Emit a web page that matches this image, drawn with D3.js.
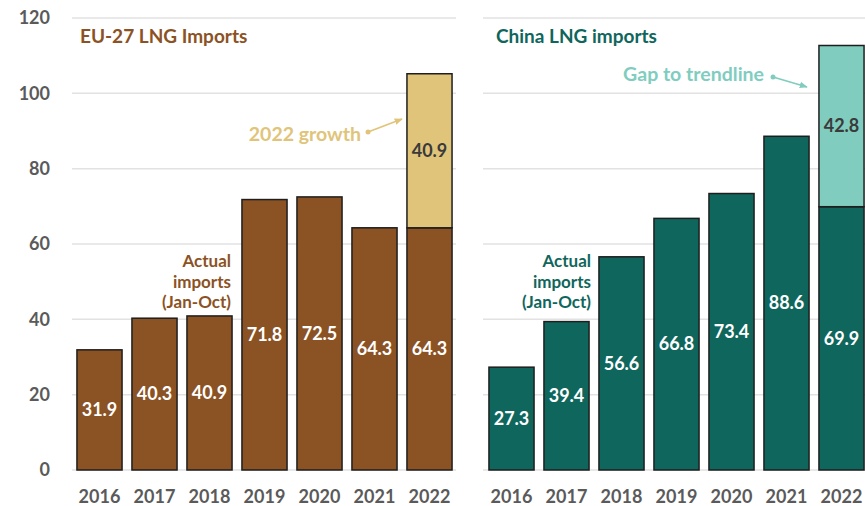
<!DOCTYPE html>
<html><head><meta charset="utf-8">
<script src="https://cdn.jsdelivr.net/npm/d3@7"></script>
<style>
body{margin:0;background:#fff;}
text{font-family:Lato,"Open Sans",sans-serif;font-weight:700;}
</style></head>
<body><svg id="c" width="865" height="506"></svg>
<script>
const years = ["2016","2017","2018","2019","2020","2021","2022"];
const euActual = [31.9,40.3,40.9,71.8,72.5,64.3,64.3];
const euExtra = [0,0,0,0,0,0,40.9];
const cnActual = [27.3,39.4,56.6,66.8,73.4,88.6,69.9];
const cnExtra = [0,0,0,0,0,0,42.8];
const yTicks = [0,20,40,60,80,100,120];

const svg = d3.select("#c");
const y = d3.scaleLinear().domain([0,120]).range([470,18]);

svg.append("g").selectAll("text").data(yTicks).join("text")
  .attr("x",50).attr("y",d=>y(d)).attr("dy","0.35em")
  .attr("text-anchor","end").attr("fill","#5a5a5a").attr("font-size",18)
  .text(d=>d);

const defs = svg.append("defs");

function panel(cfg){
  const g = svg.append("g");
  const x = d3.scaleBand().domain(years).range([cfg.x0,cfg.x1]).paddingInner(0.18).paddingOuter(0.09);
  g.append("g").selectAll("line").data(yTicks).join("line")
    .attr("x1",cfg.g0).attr("x2",cfg.g1).attr("y1",d=>y(d)).attr("y2",d=>y(d))
    .attr("stroke","#e2e2e2").attr("stroke-width",1.5);
  const data = years.map((yr,i)=>({yr,a:cfg.actual[i],e:cfg.extra[i]}));
  g.append("g").selectAll("rect").data(data).join("rect")
    .attr("x",d=>x(d.yr)).attr("width",x.bandwidth())
    .attr("y",d=>y(d.a)).attr("height",d=>y(0)-y(d.a))
    .attr("fill",cfg.c1).attr("stroke","#1e1e1e").attr("stroke-width",1.5);
  g.append("g").selectAll("rect").data(data.filter(d=>d.e>0)).join("rect")
    .attr("x",d=>x(d.yr)).attr("width",x.bandwidth())
    .attr("y",d=>y(d.a+d.e)).attr("height",d=>y(d.a)-y(d.a+d.e))
    .attr("fill",cfg.c2).attr("stroke","#1e1e1e").attr("stroke-width",1.5);
  g.append("g").selectAll("text").data(data).join("text")
    .attr("x",d=>x(d.yr)+x.bandwidth()/2).attr("y",d=>y(d.a/2)).attr("dy","0.35em")
    .attr("text-anchor","middle").attr("fill","#fff").attr("font-size",18)
    .text(d=>d.a.toFixed(1));
  g.append("g").selectAll("text").data(data.filter(d=>d.e>0)).join("text")
    .attr("x",d=>x(d.yr)+x.bandwidth()/2).attr("y",d=>y(d.a+d.e/2)).attr("dy","0.35em")
    .attr("text-anchor","middle").attr("fill","#3a3a3a").attr("font-size",18)
    .text(d=>d.e.toFixed(1));
  g.append("g").selectAll("text").data(years).join("text")
    .attr("x",d=>x(d)+x.bandwidth()/2).attr("y",497).attr("dy","0.35em")
    .attr("text-anchor","middle").attr("fill","#5a5a5a").attr("font-size",18)
    .text(d=>d);
  g.append("text").attr("x",cfg.tx).attr("y",43).attr("fill",cfg.c1).attr("font-size",19).text(cfg.title);
  ["Actual","imports","(Jan-Oct)"].forEach((t,i)=>
    g.append("text").attr("text-anchor","end").attr("fill",cfg.c1).attr("font-size",17)
      .attr("x",cfg.ax).attr("y",267+i*20.5).text(t));
  g.append("text").attr("x",cfg.nx).attr("y",cfg.ny).attr("dy","0.35em").attr("text-anchor","end")
    .attr("fill",cfg.c2).attr("font-size",19.5).text(cfg.note);
  g.append("circle").attr("cx",cfg.p0[0]).attr("cy",cfg.p0[1]).attr("r",2.5).attr("fill",cfg.c2);
  defs.append("marker").attr("id",cfg.mid).attr("viewBox","0 0 10 10")
    .attr("refX",9).attr("refY",5).attr("markerWidth",4.5).attr("markerHeight",4.5).attr("orient","auto")
    .attr("markerUnits","strokeWidth")
    .append("path").attr("d","M0,1 L10,5 L0,9 z").attr("fill",cfg.c2);
  g.append("line").attr("x1",cfg.p0[0]).attr("y1",cfg.p0[1]).attr("x2",cfg.p1[0]).attr("y2",cfg.p1[1])
    .attr("stroke",cfg.c2).attr("stroke-width",1.8).attr("marker-end","url(#"+cfg.mid+")");
}

panel({x0:72,x1:457,g0:72,g1:456,actual:euActual,extra:euExtra,c1:"#8b5224",c2:"#e0c47a",
  tx:80,title:"EU-27 LNG Imports",ax:231,note:"2022 growth",nx:361,ny:134,p0:[368,132],p1:[402,119],mid:"m1"});
panel({x0:484,x1:869,g0:483,g1:865,actual:cnActual,extra:cnExtra,c1:"#0f665c",c2:"#80cdbf",
  tx:496,title:"China LNG imports",ax:591,note:"Gap to trendline",nx:764,ny:74,p0:[773,77],p1:[807,87],mid:"m2"});
</script></body></html>
